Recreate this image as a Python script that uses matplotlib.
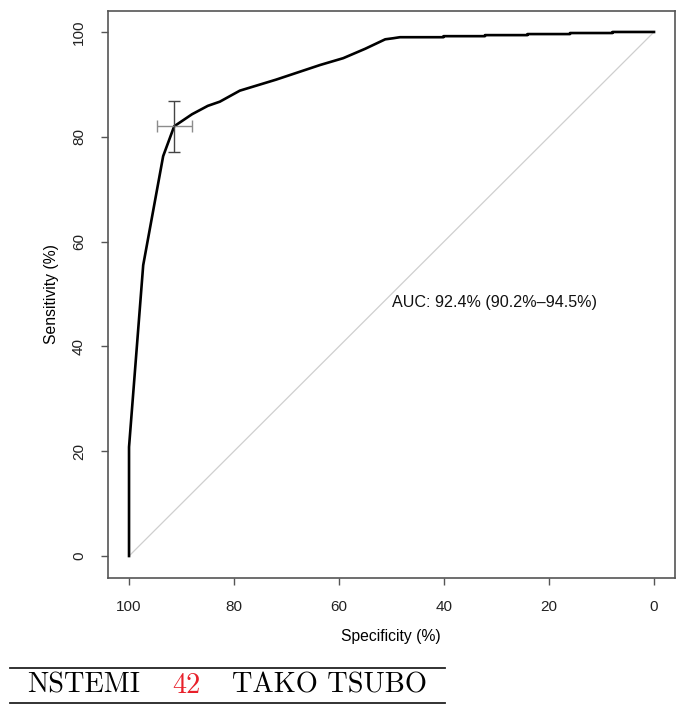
"""ROC curve NSTEMI vs Tako-Tsubo, redrawn in the R/pROC style."""
import matplotlib
matplotlib.use("Agg")
import matplotlib.pyplot as plt
from matplotlib.lines import Line2D

# ROC curve points (specificity %, sensitivity %)
spec = [100, 100, 97.3, 93.5, 91.4, 88.0, 85.0, 82.7, 78.9, 72.0, 63.6, 59.2,
        55.0, 51.2, 49.7, 48.4, 40.1, 40.1, 32.2, 32.2, 24.1, 24.1, 16.0, 16.0,
        7.9, 7.9, 0.0]
sens = [0, 20.8, 55.5, 76.3, 82.0, 84.3, 85.9, 86.7, 88.8, 90.9, 93.7, 95.0,
        96.8, 98.6, 98.8, 99.0, 99.0, 99.2, 99.2, 99.4, 99.4, 99.6, 99.6, 99.8,
        99.8, 100.0, 100.0]

# best threshold and its confidence intervals
best_spec, best_sens = 91.4, 82.0
spec_ci = (88.1, 94.6)
sens_ci = (77.1, 86.9)

auc_label = "AUC: 92.4% (90.2%–94.5%)"
xticks = [100, 80, 60, 40, 20, 0]
yticks = [0, 20, 40, 60, 80, 100]
caption = [("NSTEMI", "black"), ("42", "#e8202a"), ("TAKO TSUBO", "black")]

plt.rcParams["font.family"] = ["Liberation Sans", "DejaVu Sans"]

fig = plt.figure(figsize=(6.83, 7.15), dpi=100)
ax = fig.add_axes([0.1574, 0.1923, 0.8309, 0.7923])

ax.plot([100, 0], [0, 100], color="#cfcfcf", lw=0.9, zorder=1)
ax.plot(spec, sens, color="black", lw=1.9, zorder=3, solid_joinstyle="round")

ax.errorbar(best_spec, best_sens,
            xerr=[[best_spec - spec_ci[0]], [spec_ci[1] - best_spec]],
            fmt="none", ecolor="#8c8c8c", elinewidth=1.0, capsize=4, capthick=1.0,
            zorder=4)
ax.errorbar(best_spec, best_sens,
            yerr=[[best_sens - sens_ci[0]], [sens_ci[1] - best_sens]],
            fmt="none", ecolor="#444444", elinewidth=1.0, capsize=4, capthick=1.0,
            zorder=4)

ax.text(50, 48.3, auc_label, ha="left", va="center", fontsize=11.6,
        color="#111111")

ax.set_xlim(104.1, -4.0)
ax.set_ylim(-4.1, 104.0)
ax.set_xticks(xticks)
ax.set_yticks(yticks)
ax.set_yticklabels([str(v) for v in yticks], rotation=90, va="center")
ax.tick_params(direction="out", length=5, width=1.0, color="#555555",
               labelsize=11, labelcolor="#222222")
ax.tick_params(axis="x", pad=11)
ax.tick_params(axis="y", pad=10.5)
for s in ax.spines.values():
    s.set_color("#555555")
    s.set_linewidth(1.2)

ax.set_xlabel("Specificity (%)", fontsize=11.3, labelpad=11)
ax.set_ylabel("Sensitivity (%)", fontsize=11.3, labelpad=9)

# caption underneath with rules above and below
for yp in (668.3, 702.7):
    fig.add_artist(Line2D([10 / 683, 445 / 683], [1 - yp / 715, 1 - yp / 715],
                          color="#222222", lw=1.3))
xs = [27, 172, 232]
for (txt, col), xp in zip(caption, xs):
    fig.text(xp / 683, 1 - 692.7 / 715, txt, color=col, fontsize=20.4,
             family="cmr10", ha="left", va="baseline")

fig.savefig("out.png", dpi=100)
